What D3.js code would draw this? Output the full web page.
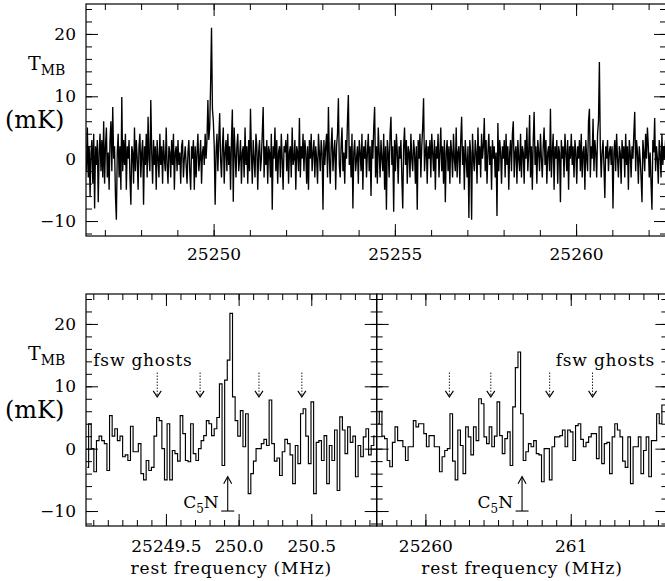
<!DOCTYPE html>
<html>
<head>
<meta charset="utf-8">
<script src="https://cdn.jsdelivr.net/npm/d3@7"></script>
<style>
  body { margin: 0; background: #fff; }
  svg text { font-family: "DejaVu Serif", serif; fill: #000; }
</style>
</head>
<body>
<svg id="chart" width="665" height="581"></svg>
<script>
// full band spectrum (mK), one value per 25 kHz channel
const topStart = 25246.48, topChan = 0.025;
const topSpectrum = [
  -2, 5, -3, 2, -6, 1, 3, -4, 4, -8, 2, -1, 3, -7, 1, 4, -2, 3, -3, 6,
  -4, 2, 5, -3, 1, -5, 3, 6, -2, 8.3, 0, 2, -6, -9.8, 1, 4, -3, 2, -5, 9.9,
  -2, 3, -1, 4, -5, 2, 0, 3, -3, -7.4, 2, 1, -4, 5, -2, 3, 0, -5, 2, 4,
  -3, 1, 3, -7.4, 2, -1, 4, -3, 6.7, 0, -2, 9.4, 1, -4, 3, -1, 2, -5, 3, 0,
  -3, 4, -1, 2, -4, 3, 0, -2, 5, -1, -4, 2, 1, -3, 3, -1, 4, -5, 1, 2,
  -2, 3, -1, 1, -4, 2, 3, -3, 0, 2, -1, -4, 1, 3, -2, -5, 2, 0, 3, -5,
  2, -3, 1, 4, -2, 0, 3, -4, 1, 2, -1, 4, 0, 3, 9.4, 3, 5, 12, 21, 8,
  6, 2, -7.4, 1, 4, -2, 3, 7.3, 0, -3, 2, 5, -4, 1, 3, -2, 4, -1, 2, -5,
  3, 7.9, -6.9, 5, 1, -3, 2, 4, -2, 0, 3, -4, 1, 2, -3, 5, -1, 2, -4, 3,
  -2, 8, 1, -4, 3, 0, -3, 4, 2, -5, 1, 3, -2, 0, 4, 8.3, -3, 2, -1, 3,
  -4, 2, 1, -3, 4, -8.2, 2, 0, 5, -2, 3, -4, 1, 2, -3, 4, 0, -5, 2, 1,
  3, -2, 4, -4, 1, 2, -3, 5, -1, 0, 3, -5, 2, 1, -2, 6.5, -3, 2, 0, 4,
  -2, 3, 1, -4, 2, -5, 3, 0, 4, -2, 1, 3, -3, 2, 0, -4, 4, 1, -2, 3,
  1, -8.2, 3, -1, 2, 4, -3, 8.3, 0, -4, 2, 5, -2, 1, 3, -5, 2, 4, 9.7, -1,
  -3, 2, 5, -2, 1, -4, 3, 0, 6, 10.2, -1, 2, -3, 4, -8, 1, 3, -2, 0, 2,
  -4, 3, 1, -2, 4, -5, 2, 0, 3, -3, 1, 4, -2, 2, -6, 3, 0, 5, 8.3, -3,
  2, -4, 5, 1, -3, 3, 0, -2, 4, -5, 2, -8.2, 3, 1, -3, 4, 6.7, -1, 2, -8.5,
  3, -2, 4, 1, -4, 2, 0, 3, -3, -8, 2, 5, -1, 3, -4, 2, 1, -3, 4, 0,
  -2, 3, 1, -4, 2, -8.2, 3, 0, 4, -3, 2, 5, 9.7, -2, 1, 3, -4, 2, 0, 3,
  -3, 4, 1, -2, 3, -5, 2, 0, 4, -3, 1, 5, -2, 2, -4, 3, -7, 1, 3, -2,
  2, -4, 3, 1, -3, 4, 0, -2, 5, -3, 1, 2, -4, 3, 6.7, -1, 2, -5, 3, 0,
  -3, 2, -9.5, 3, 1, -9.8, 4, 0, -2, 3, 1, -4, 5, -1, 2, -3, 4, 0, 2, 6.5,
  -2, 3, -4, 1, 4, -1, 2, -5, 3, 0, 2, -3, 1, -9.2, 5.7, -2, 3, 1, -4, 2,
  0, 3, -3, 4, -1, 2, -5, 1, 3, -2, 4, 6, -3, 1, 2, -4, 3, 0, -2, 4,
  -3, 2, 1, -4, 3, 0, 5, -2, 1, 7, -3, 2, -5, 3, 7.5, -1, 2, -4, 3, 1,
  -2, 4, 0, -3, 2, 5, -1, 3, -4, 1, 2, -2, 8, -3, 1, 4, -5, 2, 0, 3,
  -4, 2, 1, -7, 3, 0, 2, -3, 4, 1, -2, 3, -5, 2, 0, 4, -1, 2, -3, 3,
  1, -4, 2, 0, 3, -2, 4, -3, 1, 2, -5, 3, 0, -2, 6, 8, -3, 2, 0, 6.4,
  -2, 3, 1, -3, 4, 6, 15.5, 2, -3, 1, 3, -1, -6.3, 2, 0, 3, -2, 1, 2, -1,
  2, -8, 1, 3, -2, 4, 0, -3, 2, 1, -4, 3, 0, 2, -3, 4, -1, 2, -5, 3,
  1, -3, 2, 0, 4, 7.5, -2, 3, 1, -4, 2, 0, -3, -7, 3, 1, -2, 4, 0, 5,
  2, -3, 1, -4, -8.2, 3, 1, 6.5, -2, 2, 0, -4, 3, 1, -3, 4, -1, 2, 0, 3
];

// zoomed spectra around the two C5N lines (18 kHz channels)
const leftStart = 25248.95, leftChan = 0.018;
const leftSpectrum = [
  -3, 4, 0, -3.7, 1.3, 2, 1.3, 0.8, -3.5, 5.3,
  2, 3.2, 1.3, 2, -1.3, -1, -1.9, 3.6, -0.5, -0.5,
  0.8, -4, -5, -1.9, -3.5, -3, 2, 5, 4.5, 0,
  -5, 4, -5, -0.3, -0.8, -2, 5.3, 2.4, -1.9, -2.1,
  4, -0.8, -1.9, 0, 1.3, 2.1, 4.5, 4, 2.1, 3.2,
  5, 10.4, -2.7, 11, 14.2, 21.7, 8.3, 4.5, 2, 6.1,
  0.3, 5.6, -7.2, -4, -2, 0, 0, 0.8, 1.5, 0.5,
  7.8, 0.8, -2, -1.5, -4.3, -0.5, 1.5, 0.8, -1, -5.6,
  0.5, -2.4, 5.6, 6.4, 2, -2.4, 7.5, -7.2, 1, 1.3,
  -1.9, 2.1, -5.6, 0.5, -1.9, 3, -6.7, 5.1, 3, -0.8,
  3.5, 1, 2, -4.5, 0.5, -1.3, 1.9, 3.2, -1, 0.5,
  2
];
const rightStart = 25259.665, rightChan = 0.018;
const rightSpectrum = [
  4, 6, 2, 1.6, -1.9, -2.9, 1, 3.5, 1.3, 1.3,
  0.3, -1.9, 0.3, 0.3, 4.5, 3.5, 4, 4, 2.4, 0.3,
  2.1, 2.1, 0.3, 0.3, -3.7, -1.3, -0.3, 0, 5.6, -2,
  -5, 3, 0.5, -4, 3.5, 1.9, -1, 3.5, 1.3, 8,
  7.2, 1.9, 0.8, 3.5, 0.3, 2, 7.5, 2.1, -0.8, 1.6,
  2.7, -2.7, 6.7, 13, 15.5, 5.6, -1.9, -0.5, 0.8, 0.3,
  1.3, -0.8, -1, -5.3, 0, 0, -5, 0.3, 1.9, 1.9,
  2.1, 3, 0.3, 3, 2.7, -1.9, 3.7, 4, 1.5, 0.3,
  1, 1.9, 2.4, 2.4, -1.6, 3.5, -2.4, 0.8, 1, -4,
  1.9, 4, 3, 1.9, -2, -3, 1.9, -5.6, 0.3, 0.3,
  1.9, -4, -0.3, 1.9, -4.5, 1.3, 1.3, 5.6, 4, 7,
  7
];

// ticks and annotations
const yDomain = [-12.4, 24.8];
const yMajor = [-10, 0, 10, 20];
const topMajor = [25250, 25255, 25260];
const topLabels = ["25250", "25255", "25260"];
const leftMajor = [25249.5, 25250.0, 25250.5];
const leftLabels = ["25249.5", "250.0", "250.5"];
const rightMajor = [25260, 25261];
const rightLabels = ["25260", "261"];
const leftGhosts = [25249.44, 25249.735, 25250.14, 25250.435];
const rightGhosts = [25260.165, 25260.45, 25260.855, 25261.15];
const leftC5N = 25249.925, rightC5N = 25260.665;

const svg = d3.select("svg#chart");

//draws the box with inward ticks on all four sides
function drawAxes(g, x, y, w, h, opt) {
  const minorX = d3.ticks(x.domain()[0], x.domain()[1], opt.minorCount);
  const minorY = d3.ticks(yDomain[0], yDomain[1], 18);
  const fix = sel => {
    sel.select(".domain").remove();
    sel.attr("font-size", 17).attr("font-family", "DejaVu Serif, serif");
    sel.selectAll("line").attr("stroke", "#000").attr("stroke-width", 1);
  };
  g.append("g").attr("transform", "translate(0," + h + ")")
    .call(d3.axisBottom(x).tickValues(minorX).tickSize(-6).tickFormat("")).call(fix);
  g.append("g").call(d3.axisTop(x).tickValues(minorX).tickSize(-6).tickFormat("")).call(fix);
  g.append("g").call(d3.axisLeft(y).tickValues(minorY).tickSize(-6).tickFormat("")).call(fix);
  g.append("g").attr("transform", "translate(" + w + ",0)")
    .call(d3.axisRight(y).tickValues(minorY).tickSize(-6).tickFormat("")).call(fix);

  g.append("g").attr("transform", "translate(0," + h + ")")
    .call(d3.axisBottom(x).tickValues(opt.majorX).tickSize(-12).tickPadding(opt.xPad)
      .tickFormat((d, i) => opt.labelsX[i])).call(fix);
  g.append("g").call(d3.axisTop(x).tickValues(opt.majorX).tickSize(-12).tickFormat("")).call(fix);
  g.append("g").call(d3.axisLeft(y).tickValues(yMajor).tickSize(-12).tickPadding(10)
      .tickFormat(opt.labelY ? d3.format("d") : "")).call(fix);
  g.append("g").attr("transform", "translate(" + w + ",0)")
    .call(d3.axisRight(y).tickValues(yMajor).tickSize(-12).tickFormat("")).call(fix);

  g.append("rect").attr("width", w).attr("height", h)
    .attr("fill", "none").attr("stroke", "#000").attr("stroke-width", 1.2);
}

//T_MB (mK) label left of a panel
function drawYLabel(top) {
  const t = svg.append("text").attr("x", 28).attr("y", top + 66).attr("font-size", 19).text("T");
  t.append("tspan").attr("font-size", 14).attr("dy", 5).text("MB");
  svg.append("text").attr("x", 5).attr("y", top + 124).attr("font-size", 24).text("(mK)");
}

//one panel: frame, ticks, spectrum
function drawPanel(id, left, top, w, h, domain, data, start, chan, opt) {
  const x = d3.scaleLinear().domain(domain).range([0, w]);
  const y = d3.scaleLinear().domain(yDomain).range([h, 0]);
  const g = svg.append("g").attr("id", id).attr("transform", "translate(" + left + "," + top + ")");
  g.append("clipPath").attr("id", id + "-clip").append("rect").attr("width", w).attr("height", h);

  const line = d3.line()
    .x((d, i) => x(start + (i + 0.5) * chan))
    .y(d => y(d))
    .curve(opt.step ? d3.curveStep : d3.curveLinear);
  g.append("path").datum(data).attr("clip-path", "url(#" + id + "-clip)")
    .attr("d", line).attr("fill", "none").attr("stroke", "#000")
    .attr("stroke-width", opt.step ? 1.15 : 1.35);

  drawAxes(g, x, y, w, h, opt);
  return { g: g, x: x, y: y };
}

//dotted down arrows for the frequency switching ghosts, solid up arrow for C5N
function drawMarks(p, ghosts, lineFreq) {
  ghosts.forEach(function (f) {
    const gx = p.x(f), y1 = p.y(12.2), y2 = p.y(8.3);
    p.g.append("line").attr("x1", gx).attr("x2", gx).attr("y1", y1).attr("y2", y2 - 1)
      .attr("stroke", "#000").attr("stroke-width", 1).attr("stroke-dasharray", "1.3,1.7");
    p.g.append("path").attr("d", "M" + (gx - 4) + "," + (y2 - 6) + "L" + gx + "," + y2 + "L" + (gx + 4) + "," + (y2 - 6))
      .attr("fill", "none").attr("stroke", "#000").attr("stroke-width", 1.1);
  });
  const cx = p.x(lineFreq), base = p.y(-10), tip = p.y(-4.5);
  p.g.append("line").attr("x1", cx).attr("x2", cx).attr("y1", base).attr("y2", tip)
    .attr("stroke", "#000").attr("stroke-width", 1.1);
  p.g.append("path").attr("d", "M" + (cx - 4) + "," + (tip + 7) + "L" + cx + "," + tip + "L" + (cx + 4) + "," + (tip + 7))
    .attr("fill", "none").attr("stroke", "#000").attr("stroke-width", 1.1);
  p.g.append("line").attr("x1", cx - 6.5).attr("x2", cx + 6.5).attr("y1", base).attr("y2", base)
    .attr("stroke", "#000").attr("stroke-width", 1.1);
  const t = p.g.append("text").attr("x", cx - 9).attr("y", base - 3).attr("text-anchor", "end").attr("font-size", 17).text("C");
  t.append("tspan").attr("font-size", 12).attr("dy", 5).text("5");
  t.append("tspan").attr("dy", -5).text("N");
}

const topPanel = drawPanel("top", 86, 4, 580, 232, [topStart, topStart + 16], topSpectrum, topStart, topChan,
  { minorCount: 16, majorX: topMajor, labelsX: topLabels, xPad: 12, labelY: true, step: false });
drawYLabel(4);

const leftPanel = drawPanel("left", 86, 294, 290.7, 232, [leftStart, leftStart + 2], leftSpectrum, leftStart, leftChan,
  { minorCount: 20, majorX: leftMajor, labelsX: leftLabels, xPad: 14, labelY: true, step: true });
const rightPanel = drawPanel("right", 376.7, 294, 290.7, 232, [rightStart, rightStart + 2], rightSpectrum, rightStart, rightChan,
  { minorCount: 20, majorX: rightMajor, labelsX: rightLabels, xPad: 14, labelY: false, step: true });
drawYLabel(294);

drawMarks(leftPanel, leftGhosts, leftC5N);
drawMarks(rightPanel, rightGhosts, rightC5N);

leftPanel.g.append("text").attr("x", leftPanel.x(25249.0)).attr("y", leftPanel.y(13.3))
  .attr("font-size", 17).attr("letter-spacing", 0.8).text("fsw ghosts");
rightPanel.g.append("text").attr("x", rightPanel.x(25261.58)).attr("y", rightPanel.y(13.3))
  .attr("text-anchor", "end").attr("font-size", 17).attr("letter-spacing", 0.8).text("fsw ghosts");

[leftPanel, rightPanel].forEach(function (p) {
  p.g.append("text").attr("x", 145.35).attr("y", 280).attr("text-anchor", "middle")
    .attr("font-size", 17).attr("letter-spacing", 0.8).text("rest frequency (MHz)");
});
</script>
</body>
</html>
